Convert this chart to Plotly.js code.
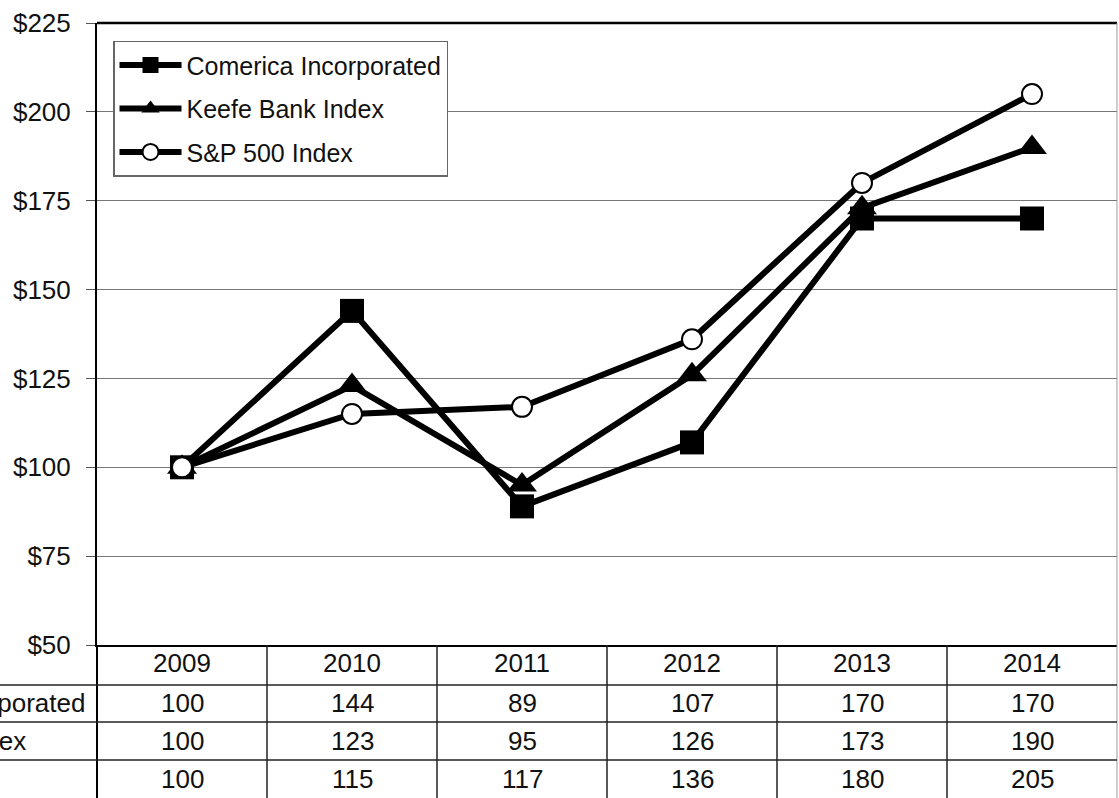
<!DOCTYPE html>
<html>
<head>
<meta charset="utf-8">
<script src="https://cdn.plot.ly/plotly-3.0.1.min.js"></script>
<style>html,body{margin:0;padding:0;background:#fff;}#chart{width:1119px;height:798px;}</style>
</head>
<body>
<div id="chart"></div>
<script>
const years = ['2009', '2010', '2011', '2012', '2013', '2014'];
const seriesNames = ['Comerica Incorporated', 'Keefe Bank Index', 'S&P 500 Index'];
const comerica = [100, 144, 89, 107, 170, 170];
const keefe = [100, 123, 95, 126, 173, 190];
const sp500 = [100, 115, 117, 136, 180, 205];
const yTicks = [50, 75, 100, 125, 150, 175, 200, 225];

const FONT = 'Liberation Sans, Arial, sans-serif';
const TXT = '#111';

const traces = [
  {x: years, y: comerica, name: seriesNames[0], legendgroup: 'a', type: 'scatter', mode: 'lines+markers',
   line: {color: '#000', width: 6}, marker: {symbol: 'square', size: 24, color: '#000'}},
  {x: years, y: keefe, name: seriesNames[1], legendgroup: 'b', type: 'scatter', mode: 'lines+markers',
   line: {color: '#000', width: 6}, marker: {symbol: 'triangle-up', size: 26, color: '#000'}},
  {x: years, y: sp500, name: seriesNames[2], legendgroup: 'c', type: 'scatter', mode: 'lines+markers',
   line: {color: '#000', width: 6}, marker: {symbol: 'circle', size: 20, color: '#fff', line: {color: '#000', width: 2}}}
];

// table geometry (paper coords)
const rowBounds = [-0.0643, -0.1238, -0.1849];
const rowCenters = [-0.094, -0.154, -0.215];
const tableBottom = -0.26;
const labelX = -0.2725;

const shapes = [];
shapes.push({type: 'line', xref: 'paper', yref: 'paper', x0: 0, x1: 1, y0: 1, y1: 1, line: {color: '#000', width: 2.5}});
shapes.push({type: 'line', xref: 'paper', yref: 'paper', x0: 1, x1: 1, y0: 1, y1: tableBottom, line: {color: '#999', width: 1}});
shapes.push({type: 'line', xref: 'paper', yref: 'paper', x0: 0, x1: 0, y0: 0, y1: tableBottom, line: {color: '#000', width: 2}});
for (let i = 1; i < years.length; i++) {
  shapes.push({type: 'line', xref: 'paper', yref: 'paper', x0: i / years.length, x1: i / years.length, y0: 0, y1: tableBottom, line: {color: '#222', width: 1.5}});
}
rowBounds.forEach(function (yb) {
  shapes.push({type: 'line', xref: 'paper', yref: 'paper', x0: -0.1, x1: 1, y0: yb, y1: yb, line: {color: '#222', width: 1.5}});
});

const annotations = [];
const rows = [comerica, keefe, sp500];
rows.forEach(function (vals, r) {
  annotations.push({xref: 'paper', yref: 'paper', x: labelX, y: rowCenters[r], xanchor: 'left', yanchor: 'middle',
    text: seriesNames[r], showarrow: false, font: {family: FONT, size: 26, color: TXT}});
  vals.forEach(function (v, i) {
    annotations.push({xref: 'x', yref: 'paper', x: i, y: rowCenters[r], xanchor: 'center', yanchor: 'middle',
      text: String(v), showarrow: false, font: {family: FONT, size: 26, color: TXT}});
  });
});

const layout = {
  width: 1119, height: 798,
  margin: {l: 97, r: 2, t: 23, b: 153, pad: 0},
  paper_bgcolor: '#fff', plot_bgcolor: '#fff',
  showlegend: true,
  legend: {x: 0.0157, y: 0.9715, xanchor: 'left', yanchor: 'top', bgcolor: '#fff', bordercolor: '#666', borderwidth: 1.5,
    font: {family: FONT, size: 25, color: TXT}, tracegroupgap: 8, itemwidth: 62, traceorder: 'grouped'},
  xaxis: {type: 'category', categoryorder: 'array', categoryarray: years, range: [-0.5, 5.5],
    showgrid: false, zeroline: false, showline: true, linecolor: '#000', linewidth: 2,
    ticks: '', showticklabels: true, ticklabelstandoff: -6, tickfont: {family: FONT, size: 26, color: TXT}, fixedrange: true},
  yaxis: {range: [50, 225], tickvals: yTicks, ticktext: yTicks.map(function (v) { return '$' + v; }),
    showgrid: true, gridcolor: '#777', gridwidth: 1, zeroline: false, showline: true, linecolor: '#000', linewidth: 2,
    ticks: 'outside', ticklen: 9, tickcolor: '#555', tickwidth: 1, ticklabelstandoff: 10,
    tickfont: {family: FONT, size: 26, color: TXT}, fixedrange: true},
  shapes: shapes,
  annotations: annotations
};

Plotly.newPlot('chart', traces, layout, {displayModeBar: false, staticPlot: true});
</script>
</body>
</html>
